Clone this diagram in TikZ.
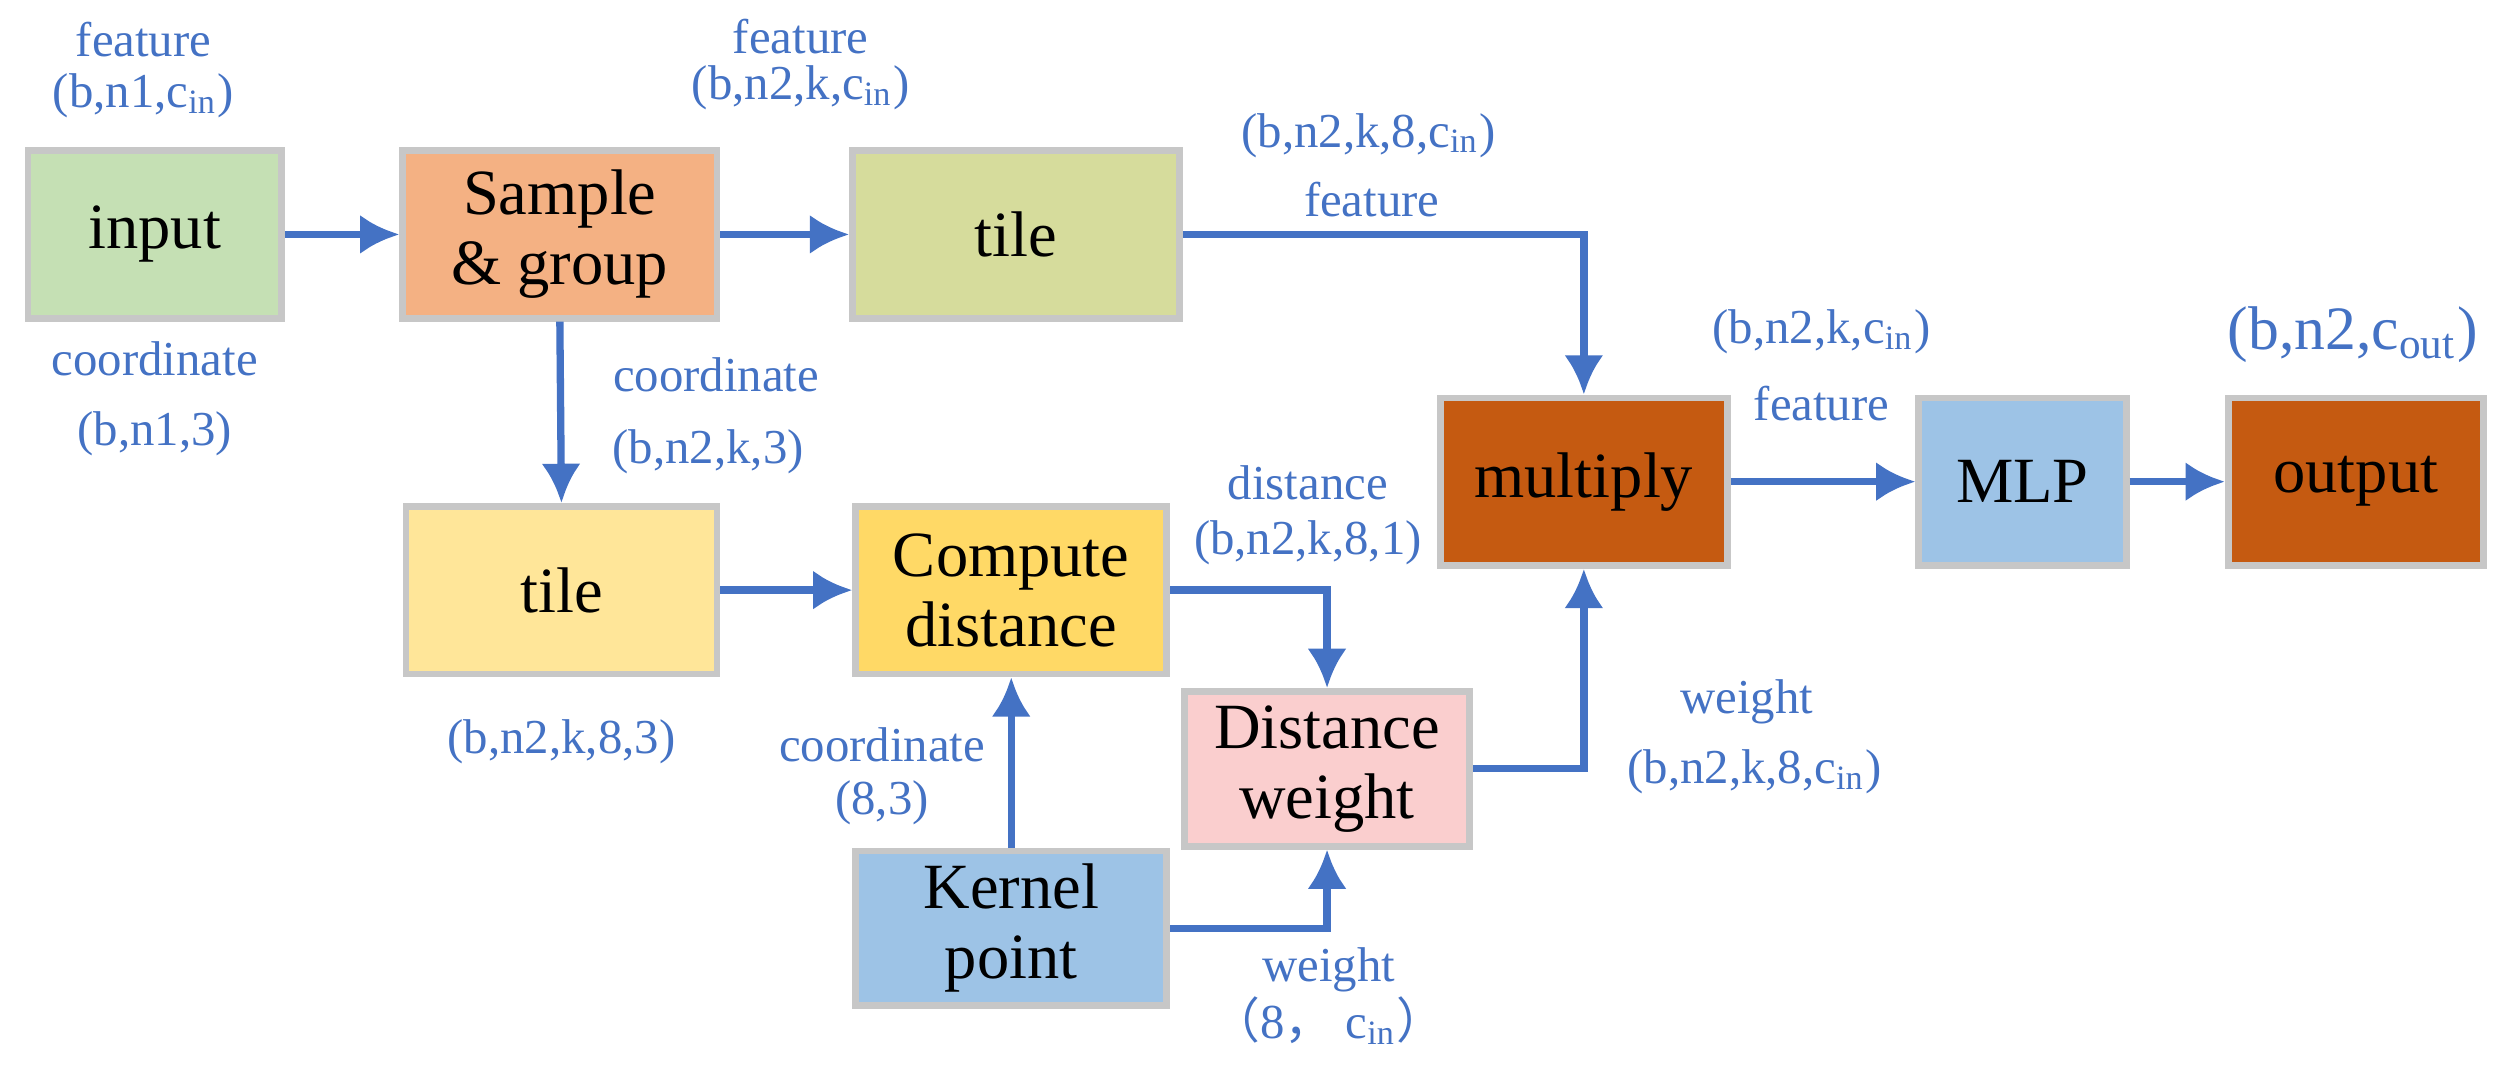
\documentclass[tikz,border=0pt]{standalone}
\usepackage{fontspec}
\setmainfont{Liberation Serif}
\newfontfamily\cjk{Noto Sans CJK SC}
\usetikzlibrary{arrows.meta}
\definecolor{arr}{HTML}{4472C4}
\definecolor{lbl}{HTML}{4472C4}
\begin{document}
\begin{tikzpicture}[x=0.01cm,y=-0.01cm,
 box/.style={draw=black!22,line width=1.2pt,minimum width=#1*0.01cm,inner sep=0pt,align=center,font=\fontsize{11.5}{12.5}\selectfont},
 ar/.style={draw=arr,line width=1.3pt,-{Latex[length=7pt,width=7pt]}},
 lb/.style={text=lbl,font=\fontsize{8.7}{9}\selectfont,inner sep=0pt}]
\useasboundingbox (0,0) rectangle (1568,671);
\node[box=159,minimum height=1.05cm,fill={rgb,255:red,197;green,224;blue,180}] (in) at (97,147) {input};
\node[box=197,minimum height=1.05cm,fill={rgb,255:red,244;green,177;blue,131}] (sg) at (351,147) {Sample\\\& group};
\node[box=205,minimum height=1.05cm,fill={rgb,255:red,214;green,220;blue,156}] (t1) at (637,147) {tile};
\node[box=180,minimum height=1.05cm,fill={rgb,255:red,197;green,90;blue,17}] (mul) at (993,302) {multiply};
\node[box=130,minimum height=1.05cm,fill={rgb,255:red,157;green,195;blue,230}] (mlp) at (1268,302) {MLP};
\node[box=160,minimum height=1.05cm,fill={rgb,255:red,197;green,90;blue,17}] (out) at (1477,302) {output};
\node[box=195,minimum height=1.05cm,fill={rgb,255:red,255;green,230;blue,153}] (t2) at (352,370) {tile};
\node[box=195,minimum height=1.05cm,fill={rgb,255:red,255;green,217;blue,102}] (cd) at (634,370) {Compute\\distance};
\node[box=179,minimum height=0.97cm,fill={rgb,255:red,250;green,206;blue,206}] (dw) at (832,482) {Distance\\weight};
\node[box=195,minimum height=0.97cm,fill={rgb,255:red,157;green,195;blue,230}] (kp) at (634,582) {Kernel\\point};
\draw[ar] (in) -- (sg);
\draw[ar] (sg) -- (t1);
\draw[ar] (t1.east) -| (mul.north);
\draw[ar] (sg.south) -- (t2.north);
\draw[ar] (t2) -- (cd);
\draw[ar] (cd.east) -| (dw.north);
\draw[ar] (kp) -- (cd);
\draw[ar] (kp.east) -| (dw.south);
\draw[ar] (dw.east) -| (mul.south);
\draw[ar] (mul) -- (mlp);
\draw[ar] (mlp) -- (out);
\node[lb] (l1) at (90,25) {feature};
\node[lb] (l2) at (90,60) {(b,n1,c\textsubscript{in})};
\node[lb] (l3) at (97,225) {coordinate};
\node[lb] (l4) at (97,272) {(b,n1,3)};
\node[lb] (l5) at (502,23) {feature};
\node[lb] (l6) at (502,55) {(b,n2,k,c\textsubscript{in})};
\node[lb] (l7) at (858,85) {(b,n2,k,8,c\textsubscript{in})};
\node[lb] (l8) at (860,125) {feature};
\node[lb] (l9) at (449,235) {coordinate};
\node[lb] (l10) at (444,283) {(b,n2,k,3)};
\node[lb] (l11) at (1142,208) {(b,n2,k,c\textsubscript{in})};
\node[lb] (l12) at (1142,253) {feature};
\node[lb,font=\fontsize{11}{12}\selectfont] (l13) at (1475,210) {(b,n2,c\textsubscript{out})};
\node[lb] (l14) at (820,303) {distance};
\node[lb] (l15) at (820,340) {(b,n2,k,8,1)};
\node[lb] (l16) at (352,465) {(b,n2,k,8,3)};
\node[lb] (l17) at (553,467) {coordinate};
\node[lb] (l18) at (553,503) {(8,3)};
\node[lb] (l19) at (1095,440) {weight};
\node[lb] (l20) at (1100,484) {(b,n2,k,8,c\textsubscript{in})};
\node[lb] (l21) at (833,608) {weight};
\node[lb] (l22) at (833,640) {{\cjk（}8{\cjk，} c\textsubscript{in}{\cjk）}};
\end{tikzpicture}
\end{document}
